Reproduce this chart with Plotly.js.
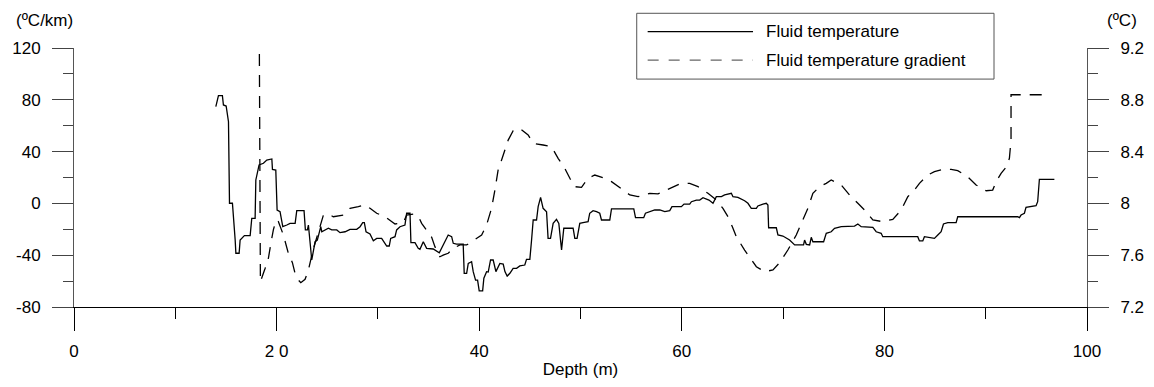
<!DOCTYPE html>
<html>
<head>
<meta charset="utf-8">
<script src="https://cdn.plot.ly/plotly-3.0.1.min.js"></script>
<style>html,body{margin:0;padding:0;background:#fff;}#chart{width:1154px;height:387px;}</style>
</head>
<body>
<div id="chart"></div>
<script>
// Fluid temperature (ºC) vs depth (m)
const tempDepth = [14.00,14.26,14.65,14.75,15.02,15.25,15.35,15.64,15.91,15.98,16.30,16.40,16.82,17.39,17.55,17.88,17.95,18.27,18.70,19.03,19.53,19.59,19.92,20.05,20.34,20.61,21.01,21.33,21.83,21.99,22.71,22.84,23.04,23.14,23.47,23.63,23.80,24.02,24.19,24.36,24.46,24.78,25.11,25.44,25.94,26.26,26.76,27.25,27.91,28.24,28.50,28.66,28.83,29.22,29.55,29.88,30.37,30.87,31.12,31.26,31.69,31.85,32.18,32.67,32.84,33.17,33.26,33.66,33.98,34.15,34.48,34.81,35.14,35.46,36.06,36.29,36.52,36.94,37.28,37.44,37.77,38.42,38.52,38.76,38.92,39.25,39.41,39.64,39.84,40.00,40.34,40.46,40.73,40.89,41.12,41.38,41.65,42.04,42.37,42.54,42.76,43.03,43.35,43.69,44.01,44.50,44.67,45.00,45.17,45.33,45.66,45.82,46.06,46.31,46.65,46.80,47.04,47.30,47.63,47.86,48.13,48.35,49.27,49.44,49.66,49.93,50.25,50.75,50.91,51.24,51.58,51.90,52.07,52.89,53.06,55.26,55.43,56.24,56.41,56.84,57.33,57.83,58.32,58.81,59.03,59.96,60.22,60.78,60.95,61.44,61.77,62.09,62.68,63.08,63.41,63.91,64.23,64.89,65.05,65.54,65.88,66.20,66.53,66.86,67.36,67.51,68.01,68.34,68.50,68.57,69.33,69.49,69.98,70.32,70.64,71.14,72.02,72.12,72.29,72.62,72.78,72.94,74.00,74.26,74.75,75.08,75.74,77.05,77.38,77.71,78.86,79.19,79.68,79.84,83.29,83.46,83.79,83.95,84.94,85.27,85.60,85.83,86.25,87.08,87.24,93.16,93.33,93.49,93.82,93.98,94.97,95.13,95.30,96.78];
const tempValue = [8.747,8.832,8.832,8.760,8.752,8.631,8.001,8.001,7.717,7.615,7.615,7.717,7.751,7.751,7.885,7.885,8.181,8.297,8.310,8.335,8.343,8.263,8.258,7.949,7.936,7.820,7.833,7.846,7.846,7.944,7.944,7.795,7.795,7.833,7.563,7.640,7.704,7.717,7.769,7.820,7.781,7.795,7.808,7.795,7.795,7.774,7.781,7.800,7.800,7.820,7.851,7.851,7.781,7.764,7.712,7.730,7.730,7.671,7.671,7.730,7.743,7.795,7.820,7.833,7.924,7.924,7.697,7.697,7.653,7.646,7.704,7.653,7.653,7.648,7.619,7.653,7.692,7.756,7.743,7.692,7.686,7.686,7.460,7.460,7.537,7.550,7.473,7.408,7.408,7.325,7.325,7.422,7.473,7.470,7.563,7.563,7.473,7.537,7.532,7.473,7.439,7.460,7.499,7.499,7.517,7.524,7.568,7.568,7.717,7.872,7.872,7.975,8.047,7.962,7.936,7.730,7.730,7.846,7.877,7.846,7.640,7.808,7.808,7.730,7.730,7.846,7.851,7.859,7.924,7.944,7.936,7.924,7.872,7.872,7.957,7.957,7.890,7.890,7.924,7.936,7.949,7.949,7.936,7.944,7.975,7.975,7.995,7.995,8.013,8.026,8.026,8.044,8.026,8.001,8.052,8.052,8.065,8.078,8.052,8.047,8.034,8.021,8.001,7.962,7.962,7.980,7.995,8.001,7.988,7.812,7.812,7.756,7.748,7.730,7.717,7.679,7.679,7.717,7.684,7.679,7.738,7.704,7.704,7.769,7.781,7.808,7.820,7.825,7.841,7.820,7.815,7.781,7.769,7.743,7.743,7.710,7.710,7.743,7.730,7.756,7.781,7.841,7.851,7.851,7.897,7.897,7.890,7.910,7.924,7.970,7.982,8.013,8.186,8.186];

// Fluid temperature gradient (ºC/km) vs depth (m)
const gradDepth = [18.30,18.40,18.87,19.19,19.46,19.68,19.95,20.18,20.67,21.16,21.56,21.82,22.15,22.39,22.81,23.14,23.60,24.12,24.62,25.11,25.60,26.59,27.25,28.07,28.73,29.22,29.88,30.70,31.69,32.50,32.84,33.49,33.98,34.32,34.81,35.31,35.63,36.12,36.50,36.94,37.44,38.10,38.76,39.25,40.24,40.73,41.22,41.55,41.87,42.21,42.53,42.86,43.35,44.01,44.83,45.33,46.31,47.14,47.79,48.45,48.95,49.44,50.10,50.75,51.41,52.24,53.06,53.88,54.87,55.68,56.84,57.65,58.80,59.79,60.78,61.60,62.58,63.41,64.06,64.56,64.99,65.38,66.20,66.70,67.36,68.18,69.00,69.66,70.47,71.30,71.79,72.45,72.94,73.60,74.26,74.75,75.74,76.56,77.38,78.21,78.86,79.84,80.83,81.66,82.31,82.97,83.46,84.28,84.94,85.76,86.59,87.24,88.22,89.05,90.04,90.69,91.03,91.52,92.01,92.34,92.50,92.50,96.11];
const gradValue = [115.4,-60.5,-50.1,-42.4,-29.6,-20.5,-12.8,-14.1,-24.4,-38.5,-45.8,-54.0,-59.2,-61.2,-58.6,-51.4,-36.0,-21.9,-9.0,-8.2,-10.3,-9.0,-3.8,-2.5,-1.2,-3.8,-7.6,-10.3,-15.9,-14.9,-9.0,-8.2,-9.7,-15.4,-20.5,-26.2,-33.4,-41.2,-39.8,-38.5,-34.7,-32.1,-32.1,-29.6,-24.4,-16.7,-3.8,10.3,25.8,33.5,41.2,48.9,56.1,58.0,52.8,46.4,45.1,43.8,34.8,27.1,19.4,12.9,12.4,19.4,21.9,19.8,16.8,12.4,6.5,5.2,7.8,7.3,11.7,15.0,15.5,12.9,7.8,2.6,-3.8,-10.3,-18.0,-25.7,-36.0,-41.2,-48.9,-52.7,-51.4,-45.8,-36.0,-24.4,-15.4,-3.8,7.8,12.9,15.5,18.1,14.2,6.5,0.1,-6.4,-12.8,-14.1,-12.3,-5.1,5.2,10.3,15.5,21.9,24.5,26.3,26.3,25.3,20.6,14.2,9.8,10.3,16.8,23.2,27.9,34.8,49.0,83.9,83.9];

const xTickVals = [0,20,40,60,80,100];
const xTickText = ['0','2 0','40','60','80','100'];
const xMinorVals = [10,30,50,70,90];
const yTickVals = [-80,-40,0,40,80,120];
const yTickText = ['-80','-40','0','40','80','120'];
const yMinorVals = [-60,-20,20,60,100];
const y2TickVals = [7.2,7.6,8,8.4,8.8,9.2];
const y2TickText = ['7.2','7.6','8','8.4','8.8','9.2'];
const y2MinorVals = [7.4,7.8,8.2,8.6,9.0];
const legendLabels = ['Fluid temperature','Fluid temperature gradient'];

const FONT = 'Liberation Sans, Arial, sans-serif';
const DASH = '12px,9px';

const traces = [
  {x: tempDepth, y: tempValue, yaxis: 'y2', type: 'scatter', mode: 'lines',
   line: {color: '#000', width: 1.3}, name: legendLabels[0], showlegend: false, hoverinfo: 'x+y'},
  {x: gradDepth, y: gradValue, yaxis: 'y', type: 'scatter', mode: 'lines',
   line: {color: '#000', width: 1.3, dash: DASH}, name: legendLabels[1], showlegend: false, hoverinfo: 'x+y'}
];

// legend geometry in paper coordinates
const lx0 = 0.5555, lx1 = 0.9082, ly0 = 0.880, ly1 = 1.134;
const sx0 = 0.5663, sx1 = 0.6703, row1 = 1.063, row2 = 0.953, tx = 0.681;

const layout = {
  width: 1154, height: 387,
  margin: {l: 74, r: 67, t: 48, b: 80, pad: 0},
  paper_bgcolor: '#fff', plot_bgcolor: '#fff',
  font: {family: FONT, size: 17, color: '#000'},
  showlegend: false,
  xaxis: {
    range: [0, 100], showgrid: false, zeroline: false,
    showline: true, linecolor: '#000', linewidth: 1,
    ticks: 'outside', ticklen: 23, tickwidth: 1, tickcolor: '#000',
    tickmode: 'array', tickvals: xTickVals, ticktext: xTickText,
    ticklabelstandoff: 6,
    minor: {tickmode: 'array', tickvals: xMinorVals, ticks: 'outside', ticklen: 11, tickwidth: 1, tickcolor: '#000', showgrid: false},
    title: {text: 'Depth (m)', font: {size: 17}, standoff: 2}
  },
  yaxis: {
    range: [-80, 120], showgrid: false, zeroline: false,
    showline: true, linecolor: '#555', linewidth: 1,
    ticks: 'outside', ticklen: 21, tickwidth: 1, tickcolor: '#444',
    tickmode: 'array', tickvals: yTickVals, ticktext: yTickText,
    ticklabelstandoff: 8,
    minor: {tickmode: 'array', tickvals: yMinorVals, ticks: 'outside', ticklen: 10, tickwidth: 1, tickcolor: '#444', showgrid: false}
  },
  yaxis2: {
    overlaying: 'y', side: 'right', anchor: 'x',
    range: [7.2, 9.2], showgrid: false, zeroline: false,
    showline: true, linecolor: '#555', linewidth: 1,
    ticks: 'outside', ticklen: 21, tickwidth: 1, tickcolor: '#444',
    tickmode: 'array', tickvals: y2TickVals, ticktext: y2TickText,
    ticklabelstandoff: 8,
    minor: {tickmode: 'array', tickvals: y2MinorVals, ticks: 'outside', ticklen: 10, tickwidth: 1, tickcolor: '#444', showgrid: false}
  },
  shapes: [
    {type: 'rect', xref: 'paper', yref: 'paper', x0: lx0, x1: lx1, y0: ly0, y1: ly1,
     line: {color: '#555', width: 1}, fillcolor: 'rgba(0,0,0,0)'},
    {type: 'line', xref: 'paper', yref: 'paper', x0: sx0, x1: sx1, y0: row1, y1: row1,
     line: {color: '#000', width: 1.3}},
    {type: 'line', xref: 'paper', yref: 'paper', x0: sx0, x1: sx1, y0: row2, y1: row2,
     line: {color: '#666', width: 1.3, dash: '11px,10px'}}
  ],
  annotations: [
    {text: legendLabels[0], xref: 'paper', yref: 'paper', x: tx, y: row1, xanchor: 'left', yanchor: 'middle', showarrow: false, font: {size: 17}},
    {text: legendLabels[1], xref: 'paper', yref: 'paper', x: tx, y: row2, xanchor: 'left', yanchor: 'middle', showarrow: false, font: {size: 17}},
    {text: '(ºC/km)', xref: 'paper', yref: 'paper', x: 0, y: 1, xanchor: 'right', yanchor: 'middle', xshift: 1, yshift: 28, showarrow: false, font: {size: 17}},
    {text: '(ºC)', xref: 'paper', yref: 'paper', x: 1, y: 1, xanchor: 'left', yanchor: 'middle', xshift: 18, yshift: 28, showarrow: false, font: {size: 17}}
  ]
};

Plotly.newPlot('chart', traces, layout, {staticPlot: true, displayModeBar: false});
</script>
</body>
</html>
